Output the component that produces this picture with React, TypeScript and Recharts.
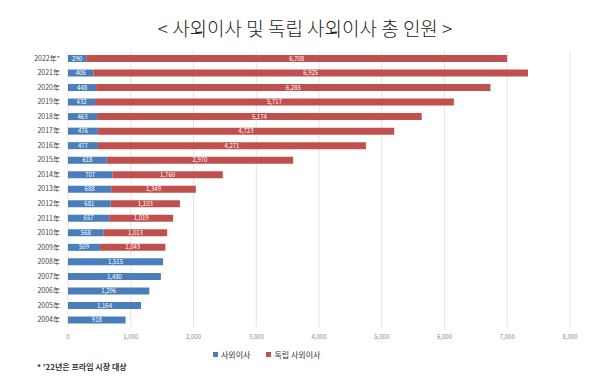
import { Bar, BarChart, CartesianGrid, LabelList, Legend, XAxis, YAxis } from 'recharts';

const years = [
  '2022年*', '2021年', '2020年', '2019年', '2018年', '2017年', '2016年', '2015年',
  '2014年', '2013年', '2012年', '2011年', '2010年', '2009年', '2008年', '2007年',
  '2006年', '2005年', '2004年',
];
const outsideDirectors = [
  290, 405, 448, 432, 463, 476, 477, 618, 707, 688, 681, 657, 568, 509, 1515, 1480,
  1296, 1164, 918,
];
const independentDirectors = [
  6708, 6925, 6285, 5717, 5174, 4723, 4271, 2970, 1760, 1349, 1103, 1019, 1013, 1043,
  null, null, null, null, null,
];
const xTicks = [0, 1000, 2000, 3000, 4000, 5000, 6000, 7000, 8000];
const legendItems = [
  { name: '사외이사', color: '#4a7ebb' },
  { name: '독립 사외이사', color: '#c0504d' },
];

const data = years.map((year, i) => ({
  year,
  outside: outsideDirectors[i],
  independent: independentDirectors[i],
}));

const FONT = '"Noto Sans CJK KR", "Noto Sans", sans-serif';
const fmt = (v: any) => (v ? Number(v).toLocaleString('en-US') : '');

const LegendContent = () => (
  <div style={{ display: 'flex', gap: 16, fontSize: 8, color: '#333', fontFamily: FONT }}>
    {legendItems.map((it) => (
      <span key={it.name} style={{ display: 'flex', alignItems: 'center', gap: 3 }}>
        <span style={{ width: 5, height: 5, background: it.color, display: 'inline-block' }} />
        {it.name}
      </span>
    ))}
  </div>
);

export default function App() {
  return (
    <div style={{ position: 'absolute', left: 0, top: 0, width: 610, height: 387, background: '#fff', fontFamily: FONT }}>
      <div style={{ position: 'absolute', top: 14, left: 0, width: 610, textAlign: 'center', fontSize: 19, color: '#222', fontWeight: 300 }}>
        &lt; 사외이사 및 독립 사외이사 총 인원 &gt;
      </div>
      <BarChart
        width={610}
        height={387}
        data={data}
        layout="vertical"
        margin={{ top: 51, right: 40, bottom: 33, left: 6 }}
        barSize={7}
      >
        <CartesianGrid horizontal={false} stroke="#e4e4e4" />
        <XAxis
          type="number"
          domain={[0, 8000]}
          ticks={xTicks}
          tickFormatter={(v) => v.toLocaleString('en-US')}
          axisLine={false}
          tickLine={false}
          tick={{ fontSize: 6, fill: '#888', fontFamily: FONT }}
          height={16}
        />
        <YAxis
          type="category"
          dataKey="year"
          width={62}
          interval={0}
          axisLine={false}
          tickLine={false}
          tick={{ fontSize: 7, fill: '#444', fontFamily: FONT }}
        />
        <Legend
          wrapperStyle={{ top: 349, left: 213, width: 130 }}
          content={<LegendContent />}
        />
        <Bar dataKey="outside" name="사외이사" stackId="a" fill="#4a7ebb" isAnimationActive={false}>
          <LabelList dataKey="outside" position="center" formatter={fmt} style={{ fill: '#fff', fontSize: 6, fontFamily: FONT }} />
        </Bar>
        <Bar dataKey="independent" name="독립 사외이사" stackId="a" fill="#c0504d" isAnimationActive={false}>
          <LabelList dataKey="independent" position="center" formatter={fmt} style={{ fill: '#fff', fontSize: 6, fontFamily: FONT }} />
        </Bar>
      </BarChart>
      <div style={{ position: 'absolute', top: 361, left: 37, fontSize: 8, fontWeight: 'bold', color: '#333' }}>
        * '22년은 프라임 시장 대상
      </div>
    </div>
  );
}
